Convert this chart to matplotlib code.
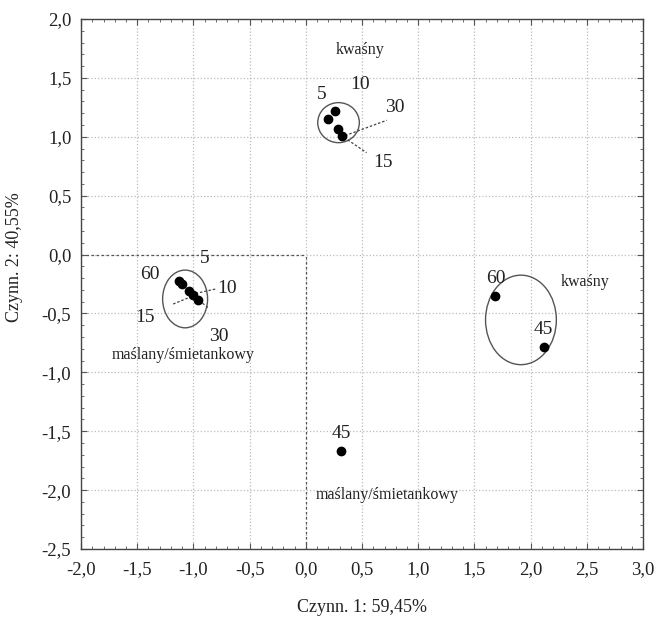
import matplotlib
matplotlib.use("Agg")
import matplotlib.pyplot as plt
from matplotlib.patches import Ellipse
from matplotlib.ticker import MultipleLocator, FuncFormatter

plt.rcParams['font.family'] = ['Liberation Serif', 'DejaVu Serif']

# --- data ---
top_x = [0.262, 0.197, 0.282, 0.321]
top_y = [1.219, 1.148, 1.063, 1.009]
left_x = [-1.130, -1.098, -1.036, -1.000, -0.961]
left_y = [-0.222, -0.250, -0.309, -0.346, -0.385]
right_x = [1.687, 2.123]
right_y = [-0.351, -0.782]
bottom_x = [0.313]
bottom_y = [-1.667]

# ellipses: (cx, cy, width, height)
ellipses = [
    (0.291, 1.12, 0.37, 0.34),
    (-1.074, -0.377, 0.40, 0.49),
    (1.914, -0.555, 0.63, 0.76),
]

# text labels: (x, y, text, fontsize)
labels = [
    (0.484, 1.737, "kwaśny", 11.5),
    (0.143, 1.355, "5", 14),
    (0.484, 1.44, "10", 14),
    (0.796, 1.245, "30", 14),
    (0.689, 0.778, "15", 14),
    (-1.386, -0.173, "60", 14),
    (-0.896, -0.031, "5", 14),
    (-0.703, -0.286, "10", 14),
    (-1.430, -0.532, "15", 14),
    (-0.777, -0.697, "30", 14),
    (-1.09, -0.852, "maślany/śmietankowy", 11.5),
    (1.687, -0.201, "60", 14),
    (2.117, -0.640, "45", 14),
    (2.488, -0.230, "kwaśny", 11.5),
    (0.313, -1.517, "45", 14),
    (0.722, -2.04, "maślany/śmietankowy", 11.5),
]

# leader lines: ((x0, x1), (y0, y1))
leaders = [
    ((0.35, 0.72), (1.01, 1.14)),
    ((0.34, 0.54), (0.995, 0.865)),
    ((-1.18, -1.00), (-0.42, -0.35)),
    ((-0.98, -0.79), (-0.33, -0.29)),
    ((-0.95, -0.87), (-0.39, -0.45)),
]

xlim = (-2.0, 3.0)
ylim = (-2.5, 2.0)

fig = plt.figure(figsize=(6.68, 6.23), dpi=100)
ax = fig.add_axes([0.1213, 0.1188, 0.9626 - 0.1213, 0.9695 - 0.1188])
ax.set_xlim(*xlim)
ax.set_ylim(*ylim)

ax.xaxis.set_major_locator(MultipleLocator(0.5))
ax.yaxis.set_major_locator(MultipleLocator(0.5))
ax.xaxis.set_minor_locator(MultipleLocator(0.1))
ax.yaxis.set_minor_locator(MultipleLocator(0.1))
fmt = FuncFormatter(lambda v, p: f"{v:.1f}".replace(".", ",").replace("-0,0", "0,0"))
ax.xaxis.set_major_formatter(fmt)
ax.yaxis.set_major_formatter(fmt)
ax.tick_params(which='both', direction='in', top=True, right=True, labelsize=13.5,
               color='#555555', labelcolor='#222222')
ax.tick_params(which='major', length=4)
ax.tick_params(which='minor', length=2.5)
ax.tick_params(axis='x', pad=9)
ax.tick_params(axis='y', pad=7)
for s in ax.spines.values():
    s.set_color('#444444')
    s.set_linewidth(1.0)

ax.grid(True, which='major', linestyle=':', color='#bbbbbb', linewidth=0.9)
ax.set_axisbelow(True)

# reference lines
ax.plot([xlim[0], 0], [0, 0], linestyle=(0, (2, 2)), color='#555555', lw=0.9, zorder=1)
ax.plot([0, 0], [ylim[0], 0], linestyle=(0, (2, 2)), color='#555555', lw=0.9, zorder=1)

for xs, ys in [(top_x, top_y), (left_x, left_y), (right_x, right_y), (bottom_x, bottom_y)]:
    ax.scatter(xs, ys, s=36, color='black', zorder=4)

for cx, cy, w, h in ellipses:
    ax.add_patch(Ellipse((cx, cy), w, h, fill=False, edgecolor='#555555', lw=1.0, zorder=3))

for lx, ly in leaders:
    ax.plot(lx, ly, linestyle=(0, (2, 1.5)), color='#444444', lw=0.9, zorder=3)

for x, y, t, fs in labels:
    ax.text(x, y, t, fontsize=fs, ha='center', va='center', color='#222222', zorder=5)

ax.set_xlabel("Czynn. 1: 59,45%", fontsize=13, labelpad=15, color='#222222')
ax.set_ylabel("Czynn. 2: 40,55%", fontsize=13, color='#222222')
ax.yaxis.set_label_coords(-0.104, 0.55)

fig.savefig("out.png", dpi=100)
